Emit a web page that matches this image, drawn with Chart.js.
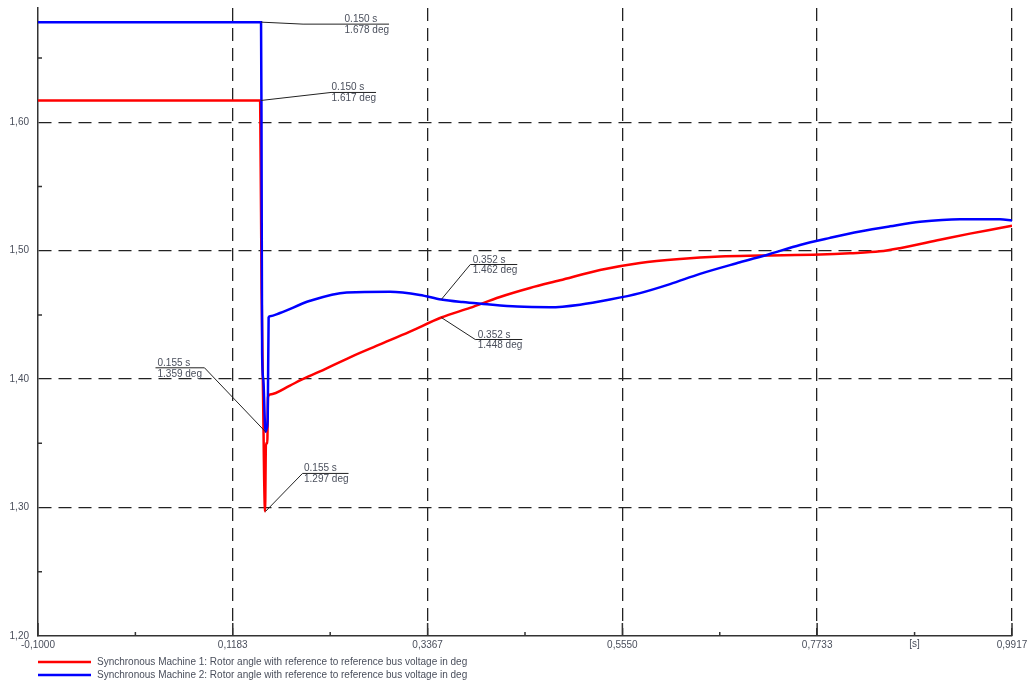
<!DOCTYPE html>
<html>
<head>
<meta charset="utf-8">
<script src="https://cdn.jsdelivr.net/npm/chart.js@4.4.1/dist/chart.umd.min.js"></script>
<style>
    html, body { margin: 0; padding: 0; background: #fff; }
    #wrap { width: 1031px; height: 684px; }
</style>
</head>
<body>
<div id="wrap"><canvas id="rotorAngleChart" width="1031" height="684"></canvas></div>
<script>
// axis ticks
const xMajorTicks = [-0.1, 0.1183, 0.3367, 0.5550, 0.7733, 0.9917];
const yMajorTicks = [1.20, 1.30, 1.40, 1.50, 1.60];
const xUnitLabel = '[s]';

const seriesLabels = [
    'Synchronous Machine 1: Rotor angle with reference to reference bus voltage in deg',
    'Synchronous Machine 2: Rotor angle with reference to reference bus voltage in deg'
];

// Synchronous Machine 1 (red)
const sm1Time = [-0.1, 0.1490, 0.1493, 0.1500, 0.1506, 0.1520, 0.1545, 0.1555, 0.1570, 0.1578, 0.1600,
    0.1824, 0.1937, 0.2161, 0.2497, 0.2833, 0.3169, 0.3520, 0.3842, 0.4178, 0.4514, 0.4851, 0.5299,
    0.5747, 0.6196, 0.6644, 0.7092, 0.7765, 0.8101, 0.8437, 0.8660, 0.9110, 0.9446, 0.9782, 0.9917];
const sm1Angle = [1.617, 1.617, 1.590, 1.530, 1.470, 1.400, 1.297, 1.350, 1.350, 1.386, 1.388,
    1.395, 1.399, 1.406, 1.417, 1.427, 1.437, 1.448, 1.4555, 1.464, 1.471, 1.477, 1.485,
    1.4905, 1.4936, 1.4955, 1.4962, 1.4970, 1.498, 1.4995, 1.502, 1.5085, 1.5133, 1.5177, 1.5195];

// Synchronous Machine 2 (blue)
const sm2Time = [-0.1, 0.1500, 0.1505, 0.1512, 0.1525, 0.1550, 0.1565, 0.1575, 0.1585, 0.1600,
    0.1712, 0.2050, 0.2460, 0.2945, 0.3280, 0.3520, 0.3760, 0.3990, 0.4370, 0.4739, 0.5075,
    0.5411, 0.5747, 0.6084, 0.6420, 0.6868, 0.7204, 0.7541, 0.7877, 0.8213, 0.8550, 0.8886,
    0.9334, 0.9782, 0.9917];
const sm2Angle = [1.678, 1.678, 1.600, 1.420, 1.400, 1.359, 1.362, 1.370, 1.448, 1.449,
    1.4515, 1.461, 1.4675, 1.468, 1.4656, 1.462, 1.460, 1.4586, 1.4565, 1.456, 1.458,
    1.462, 1.467, 1.474, 1.482, 1.491, 1.4975, 1.5045, 1.510, 1.5150, 1.519, 1.5225,
    1.5245, 1.5245, 1.5235];

// value callouts
const markerTimes = [0.150, 0.150, 0.352, 0.352, 0.155, 0.155];
const markerValues = [1.678, 1.617, 1.462, 1.448, 1.359, 1.297];
// [elbow dx, elbow dy, line end dx] in pixels from the marked point
const markerLayout = [[42, 2, 128], [70, -8, 115], [29, -35, 76], [34, 22, 81], [-61, -64, -110], [37, -38, 83]];

const labelFont = '10px "Liberation Sans", Arial, sans-serif';
const labelColor = '#4a4f5c';

function fmt(v, d) {
    return v.toFixed(d).replace('.', ',');
}

const extrasPlugin = {
    id: 'extras',
    afterDraw(chart) {
        const ctx = chart.ctx;
        const xs = chart.scales.x, ys = chart.scales.y;
        const area = chart.chartArea;
        ctx.save();

        // tick marks pointing into the plot
        ctx.strokeStyle = '#333';
        ctx.lineWidth = 1.5;
        ctx.beginPath();
        for (let i = 0; i < xMajorTicks.length; i++) {
            const px = xs.getPixelForValue(xMajorTicks[i]);
            ctx.moveTo(px, area.bottom);
            ctx.lineTo(px, area.bottom - 13);
            if (i < xMajorTicks.length - 1) {
                const mx = xs.getPixelForValue((xMajorTicks[i] + xMajorTicks[i + 1]) / 2);
                ctx.moveTo(mx, area.bottom);
                ctx.lineTo(mx, area.bottom - 4);
            }
        }
        for (let i = 0; i < yMajorTicks.length; i++) {
            const my = ys.getPixelForValue(yMajorTicks[i] + 0.05);
            ctx.moveTo(area.left, my);
            ctx.lineTo(area.left + 4, my);
        }
        ctx.stroke();

        // unit label
        ctx.font = labelFont;
        ctx.fillStyle = labelColor;
        ctx.textAlign = 'center';
        ctx.textBaseline = 'top';
        const ux = xs.getPixelForValue((xMajorTicks[4] + xMajorTicks[5]) / 2);
        ctx.fillText(xUnitLabel, ux, area.bottom + 3);

        // callouts
        ctx.lineWidth = 1;
        ctx.strokeStyle = '#222';
        for (let i = 0; i < markerTimes.length; i++) {
            const px = xs.getPixelForValue(markerTimes[i]);
            const py = ys.getPixelForValue(markerValues[i]);
            const [dx, dy, end] = markerLayout[i];
            const ex = px + dx, ey = py + dy, lx = px + end;
            ctx.beginPath();
            ctx.moveTo(px, py);
            ctx.lineTo(ex, ey);
            ctx.lineTo(lx, ey);
            ctx.stroke();
            const line1 = markerTimes[i].toFixed(3) + ' s';
            const line2 = markerValues[i].toFixed(3) + ' deg';
            ctx.textAlign = 'left';
            const tx = end > dx ? lx - ctx.measureText(line2).width : lx + 2;
            ctx.textBaseline = 'alphabetic';
            ctx.fillText(line1, tx, ey - 2);
            ctx.textBaseline = 'top';
            ctx.fillText(line2, tx, ey + 1);
        }

        // legend
        const ds = chart.data.datasets;
        const legendY = [662, 675];
        ctx.textAlign = 'left';
        ctx.textBaseline = 'middle';
        for (let i = 0; i < ds.length; i++) {
            ctx.strokeStyle = ds[i].borderColor;
            ctx.lineWidth = 2.5;
            ctx.beginPath();
            ctx.moveTo(38, legendY[i]);
            ctx.lineTo(91, legendY[i]);
            ctx.stroke();
            ctx.fillStyle = labelColor;
            ctx.fillText(ds[i].label, 97, legendY[i]);
        }
        ctx.restore();
    }
};

const ctx = document.getElementById('rotorAngleChart').getContext('2d');
new Chart(ctx, {
    type: 'line',
    data: {
        datasets: [{
            label: seriesLabels[0],
            data: sm1Time.map((t, i) => ({ x: t, y: sm1Angle[i] })),
            borderColor: '#ff0000',
            borderWidth: 2.5,
            pointRadius: 0,
            cubicInterpolationMode: 'monotone',
            order: 1,
            fill: false
        }, {
            label: seriesLabels[1],
            data: sm2Time.map((t, i) => ({ x: t, y: sm2Angle[i] })),
            borderColor: '#0000ff',
            borderWidth: 2.5,
            pointRadius: 0,
            cubicInterpolationMode: 'monotone',
            order: 0,
            fill: false
        }]
    },
    options: {
        responsive: false,
        animation: false,
        layout: { padding: { top: 8, right: 19, left: 0, bottom: 0 } },
        plugins: {
            legend: { display: false },
            tooltip: { enabled: false }
        },
        scales: {
            x: {
                type: 'linear',
                min: -0.1,
                max: 0.9917,
                afterBuildTicks: s => { s.ticks = xMajorTicks.map(v => ({ value: v })); },
                afterFit: s => { s.height = 48; },
                ticks: {
                    callback: v => fmt(v, 4),
                    font: { family: '"Liberation Sans", Arial, sans-serif', size: 10 },
                    color: labelColor,
                    padding: 3,
                    autoSkip: false,
                    maxRotation: 0
                },
                grid: {
                    color: c => c.index === 0 ? 'rgba(0,0,0,0)' : '#222',
                    lineWidth: 1.3,
                    drawTicks: false
                },
                border: { display: true, color: '#333', width: 1.5, dash: [13, 7] }
            },
            y: {
                min: 1.2,
                max: 1.689,
                afterBuildTicks: s => { s.ticks = yMajorTicks.map(v => ({ value: v })); },
                afterFit: s => { s.width = 38; s.paddingTop = 0; },
                ticks: {
                    callback: v => fmt(v, 2),
                    font: { family: '"Liberation Sans", Arial, sans-serif', size: 10 },
                    color: labelColor,
                    padding: 9,
                    autoSkip: false
                },
                grid: {
                    color: c => c.index === 0 ? 'rgba(0,0,0,0)' : '#222',
                    lineWidth: 1.3,
                    drawTicks: false
                },
                border: { display: true, color: '#333', width: 1.5, dash: [13, 7] }
            }
        }
    },
    plugins: [extrasPlugin]
});
</script>
</body>
</html>
